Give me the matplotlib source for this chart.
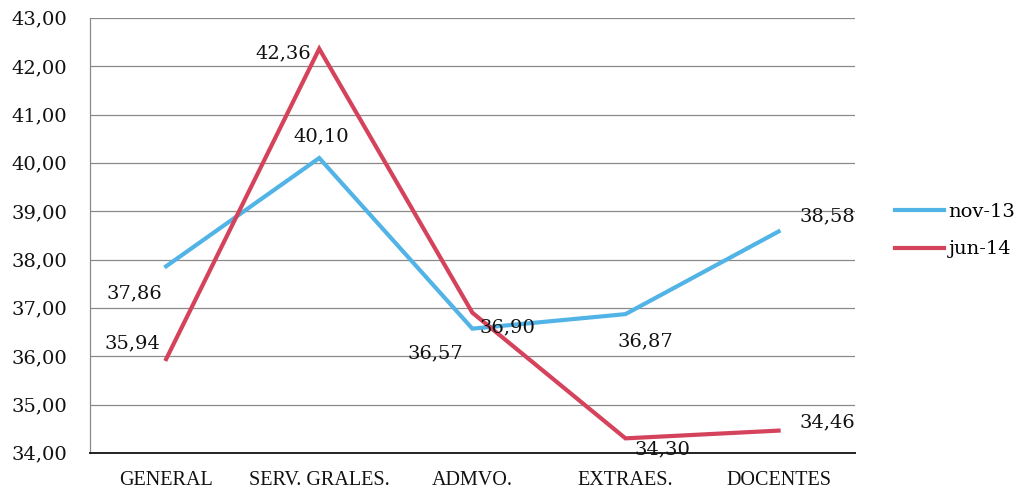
import matplotlib
matplotlib.use('Agg')
import matplotlib.pyplot as plt

categories = ['GENERAL', 'SERV. GRALES.', 'ADMVO.', 'EXTRAES.', 'DOCENTES']
nov13 = [37.86, 40.10, 36.57, 36.87, 38.58]
jun14 = [35.94, 42.36, 36.90, 34.30, 34.46]
y_ticks = [34, 35, 36, 37, 38, 39, 40, 41, 42, 43]

BLUE = '#52b4e6'
RED = '#d4435b'
NUM_FONT = 'DejaVu Serif'
CAT_FONT = 'Liberation Serif'

fig = plt.figure(figsize=(10.18, 4.96), dpi=100)
ax = fig.add_axes([0.088, 0.087, 0.752, 0.877])

x = list(range(len(categories)))
ax.plot(x, nov13, color=BLUE, linewidth=3, label='nov-13', solid_joinstyle='miter')
ax.plot(x, jun14, color=RED, linewidth=3, label='jun-14', solid_joinstyle='miter')

# label offsets in pixels (dx, dy, ha)
nov_off = [(-32, -27, 'center'), (2, 22, 'center'), (-37, -25, 'center'),
           (20, -27, 'center'), (21, 15, 'left')]
jun_off = [(-34, 16, 'center'), (-36, -5, 'center'), (35, -15, 'center'),
           (37, -11, 'center'), (21, 8, 'left')]
for vals, offs in ((nov13, nov_off), (jun14, jun_off)):
    for i, (v, (dx, dy, ha)) in enumerate(zip(vals, offs)):
        ax.annotate(f'{v:.2f}'.replace('.', ','), (i, v), xytext=(dx, dy),
                    textcoords='offset pixels', ha=ha, va='center',
                    fontsize=14, family=NUM_FONT, color='#111')

ax.set_xlim(-0.5, len(categories) - 0.5)
ax.set_ylim(34, 43)
ax.set_yticks(y_ticks)
ax.set_yticklabels([f'{t:.2f}'.replace('.', ',') for t in y_ticks],
                   fontsize=14, family=NUM_FONT)
ax.set_xticks(x)
ax.set_xticklabels(categories, fontsize=14.5, family=CAT_FONT)
ax.tick_params(axis='both', length=0, colors='#111')
ax.tick_params(axis='y', pad=16)
ax.tick_params(axis='x', pad=13)

ax.grid(axis='y', color='#8a8a8a', linewidth=0.9)
ax.set_axisbelow(True)
for sp in ('top', 'right'):
    ax.spines[sp].set_visible(False)
ax.spines['left'].set_color('#8a8a8a')
ax.spines['left'].set_linewidth(0.9)
ax.spines['bottom'].set_color('#222')
ax.spines['bottom'].set_linewidth(1.4)

ax.legend(loc='center left', bbox_to_anchor=(0.862, 0.535), bbox_transform=fig.transFigure,
          frameon=False, prop={'family': NUM_FONT, 'size': 14}, handlelength=2.5,
          handletextpad=0.25, labelspacing=1.0)

plt.savefig('out.png', dpi=100)
